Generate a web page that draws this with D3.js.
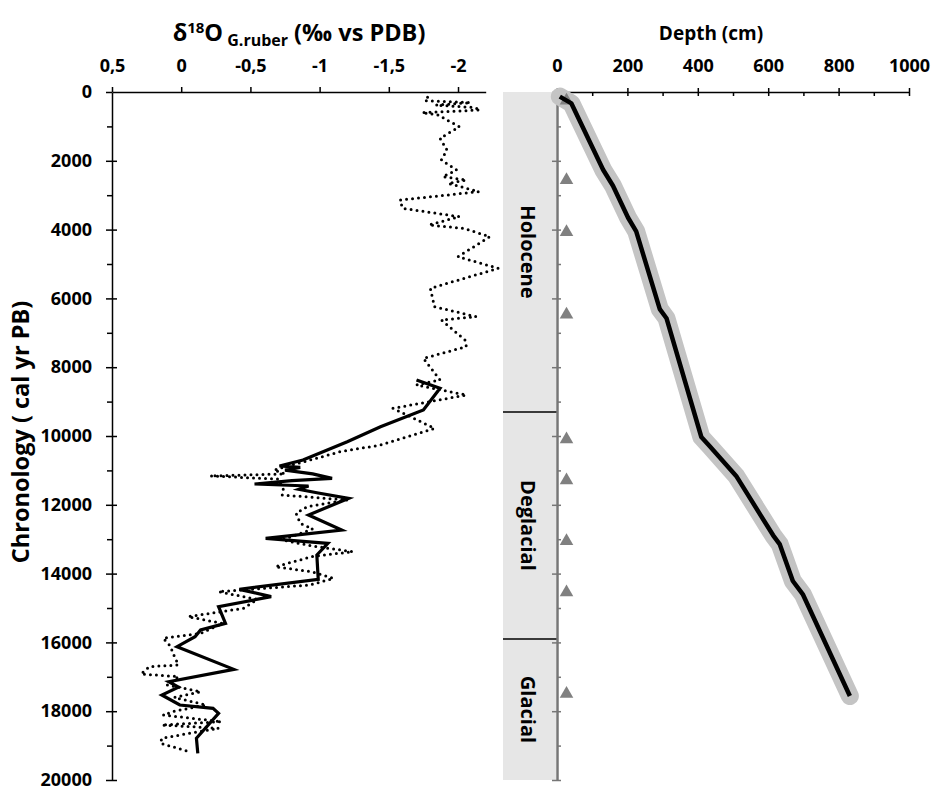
<!DOCTYPE html>
<html>
<head>
<meta charset="utf-8">
<script src="https://d3js.org/d3.v7.min.js"></script>
<style>
  body { margin: 0; background: #fff; }
  text { font-family: "Open Sans", sans-serif; font-weight: bold; fill: #000; }
</style>
</head>
<body>
<div id="chart"></div>
<script>
// d18O G.ruber, dotted record [age cal yr BP, permil]
var dottedData = [[150,-1.78],[252,-1.76],[310,-2.09],[380,-1.84],[450,-2.12],[523,-2.16],[600,-1.74],[669,-1.86],[814,-1.92],[1008,-2.01],[1347,-1.87],[1686,-1.92],[1977,-1.88],[2267,-1.99],[2461,-1.89],[2558,-2.06],[2655,-1.93],[2897,-2.15],[3140,-1.58],[3382,-1.60],[3624,-2.01],[3866,-1.79],[3963,-2.04],[4205,-2.23],[4787,-2.00],[5126,-2.29],[5707,-1.80],[6240,-1.83],[6531,-2.13],[6628,-1.88],[7209,-2.05],[7403,-2.06],[7742,-1.75],[8372,-1.87],[8517,-1.70],[8808,-2.06],[9195,-1.53],[9777,-1.83],[10262,-1.44],[10456,-1.15],[10988,-0.67],[11100,-0.75],[11163,-0.21],[11250,-0.70],[11570,-0.74],[11715,-0.73],[11860,-1.20],[12054,-0.91],[12248,-0.83],[12539,-0.86],[12700,-0.95],[13023,-0.73],[13200,-0.95],[13362,-1.24],[13500,-0.95],[13799,-0.68],[13950,-0.95],[14137,-1.10],[14331,-0.93],[14525,-0.27],[14750,-0.55],[15010,-0.45],[15252,-0.05],[15450,-0.30],[15736,-0.14],[15881,0.13],[16100,0.08],[16400,0.05],[16657,0.02],[16705,0.23],[16919,0.29],[16996,0.02],[17238,0.10],[17432,-0.14],[17600,0.05],[17819,-0.18],[18000,0.05],[18110,0.13],[18304,-0.29],[18401,0.14],[18497,-0.27],[18650,-0.05],[18788,0.14],[18933,0.15],[19177,-0.06]];

// d18O, solid record
var solidData = [[8372,-1.70],[8614,-1.87],[9244,-1.75],[9729,-1.44],[10165,-1.20],[10698,-0.88],[10872,-0.71],[10911,-0.86],[10990,-0.75],[11100,-0.95],[11231,-1.09],[11300,-0.80],[11395,-0.53],[11453,-0.92],[11550,-0.85],[11650,-0.98],[11812,-1.21],[12297,-0.92],[12733,-1.16],[12975,-0.61],[13120,-1.06],[13459,-0.98],[14167,-0.99],[14457,-0.42],[14671,-0.65],[14962,-0.27],[15446,-0.32],[15640,-0.14],[15834,-0.10],[16124,0.03],[16783,-0.38],[17142,0.09],[17300,0.02],[17529,0.14],[17820,0.01],[17916,-0.23],[18061,-0.27],[18788,-0.11],[19225,-0.12]];

// age-depth model [age, depth cm]
var ageDepth = [[134,8],[332,41],[2259,131],[2725,159],[3655,202],[4052,225],[6311,292],[6576,311],[10029,410],[10297,434],[11160,509],[12887,614],[13152,633],[14215,670],[14613,699],[17560,832]];

// dated levels (triangles)
var dateAges = [250, 2560, 4070, 6470, 10096, 11291, 13058, 14547, 17497];
var dateDepth = 27;

// periods
var periods = [
  { name: "Holocene", start: 0, end: 9300 },
  { name: "Deglacial", start: 9300, end: 15900 },
  { name: "Glacial", start: 15900, end: 20000 }
];

var d18Ticks = [0.5, 0, -0.5, -1, -1.5, -2];
var depthTicks = [0, 200, 400, 600, 800, 1000];

var svg = d3.select("#chart")
  .append("svg")
  .attr("width", 934)
  .attr("height", 792);

// scales
var y = d3.scaleLinear().domain([0, 20000]).range([92, 780]);
var x = d3.scaleLinear().domain([0.5, -2.2]).range([112, 485.7]);
var xd = d3.scaleLinear().domain([0, 1000]).range([557, 909]);

var fmt = function (d) { return String(d).replace(".", ","); };
var tickFont = "18px";

// period band
svg.selectAll("rect.period")
  .data(periods)
  .enter()
  .append("rect")
  .attr("class", "period")
  .attr("x", 503)
  .attr("width", 53)
  .attr("y", function (d) { return y(d.start); })
  .attr("height", function (d) { return y(d.end) - y(d.start); })
  .attr("fill", "#e6e6e6");

svg.selectAll("line.divider")
  .data(periods.slice(1))
  .enter()
  .append("line")
  .attr("class", "divider")
  .attr("x1", 503).attr("x2", 558)
  .attr("y1", function (d) { return y(d.start); })
  .attr("y2", function (d) { return y(d.start); })
  .attr("stroke", "#000")
  .attr("stroke-width", 1.5);

svg.selectAll("text.period")
  .data(periods)
  .enter()
  .append("text")
  .attr("class", "period")
  .attr("transform", function (d) {
    return "translate(528," + y((d.start + d.end) / 2) + ") rotate(90)";
  })
  .attr("text-anchor", "middle")
  .attr("dy", "0.35em")
  .style("font-size", "20px")
  .text(function (d) { return d.name; });

// left top axis
var gx = svg.append("g")
  .attr("transform", "translate(0,92)")
  .call(d3.axisTop(x).tickValues(d18Ticks).tickFormat(fmt).tickSizeInner(5).tickSizeOuter(0).tickPadding(15));
gx.select(".domain").attr("stroke-width", 1.5);
gx.selectAll("line").attr("stroke-width", 1.5);
gx.selectAll("text").style("font-size", tickFont);

// left y axis: minor, major, crossing
var gyMinor = svg.append("g")
  .attr("transform", "translate(112,0)")
  .call(d3.axisLeft(y).tickValues(d3.range(1000, 20000, 2000)).tickSizeInner(5).tickSizeOuter(0).tickFormat(""));
var gy = svg.append("g")
  .attr("transform", "translate(112,0)")
  .call(d3.axisLeft(y).tickValues(d3.range(0, 20001, 2000)).tickSizeInner(6).tickSizeOuter(0).tickPadding(14).tickFormat(d3.format("d")));
var gyIn = svg.append("g")
  .attr("transform", "translate(112,0)")
  .call(d3.axisRight(y).tickValues(d3.range(2000, 20001, 2000)).tickSizeInner(5).tickSizeOuter(0).tickFormat(""));
[gyMinor, gy, gyIn].forEach(function (g) {
  g.select(".domain").attr("stroke-width", 1.5);
  g.selectAll("line").attr("stroke-width", 1.5);
});
gyMinor.select(".domain").remove();
gyIn.select(".domain").remove();
gy.selectAll("text").style("font-size", tickFont);

// right top axis (depth)
var gd = svg.append("g")
  .attr("transform", "translate(0,92)")
  .call(d3.axisTop(xd).tickValues(depthTicks).tickSizeInner(4).tickSizeOuter(0).tickPadding(16).tickFormat(d3.format("d")));
var gdMinor = svg.append("g")
  .attr("transform", "translate(0,92)")
  .call(d3.axisBottom(xd).tickValues(d3.range(0, 1001, 100)).tickSizeInner(4).tickSizeOuter(0).tickFormat(""));
gdMinor.select(".domain").remove();
[gd, gdMinor].forEach(function (g) {
  g.select(".domain").attr("stroke-width", 1.5);
  g.selectAll("line").attr("stroke-width", 1.5);
});
gd.selectAll("text").style("font-size", tickFont);

// right y axis (grey)
var gr = svg.append("g")
  .attr("transform", "translate(557,0)")
  .call(d3.axisLeft(y).tickValues(d3.range(0, 20001, 2000)).tickSizeInner(5).tickSizeOuter(0).tickFormat(""));
var grIn = svg.append("g")
  .attr("transform", "translate(557,0)")
  .call(d3.axisRight(y).tickValues(d3.range(0, 20001, 1000)).tickSizeInner(4).tickSizeOuter(0).tickFormat(""));
grIn.select(".domain").remove();
[gr, grIn].forEach(function (g) {
  g.select(".domain").attr("stroke", "#767676").attr("stroke-width", 2.5);
  g.selectAll("line").attr("stroke", "#767676").attr("stroke-width", 1.5);
});

// d18O lines
var line18 = d3.line()
  .x(function (d) { return x(d[1]); })
  .y(function (d) { return y(d[0]); });

svg.append("path")
  .datum(dottedData)
  .attr("d", line18)
  .attr("fill", "none")
  .attr("stroke", "#000")
  .attr("stroke-width", 3)
  .attr("stroke-linecap", "round")
  .attr("stroke-dasharray", "0,6");

svg.append("path")
  .datum(solidData)
  .attr("d", line18)
  .attr("fill", "none")
  .attr("stroke", "#000")
  .attr("stroke-width", 3.2);

// age-depth: envelope + line
var lineAD = d3.line()
  .x(function (d) { return xd(d[1]); })
  .y(function (d) { return y(d[0]); });

svg.append("path")
  .datum(ageDepth)
  .attr("d", lineAD)
  .attr("fill", "none")
  .attr("stroke", "#c4c4c4")
  .attr("stroke-width", 18)
  .attr("stroke-linecap", "round")
  .attr("stroke-linejoin", "round");

// triangles
svg.selectAll("path.date")
  .data(dateAges)
  .enter()
  .append("path")
  .attr("class", "date")
  .attr("d", d3.symbol().type(d3.symbolTriangle).size(80))
  .attr("transform", function (d) { return "translate(" + xd(dateDepth) + "," + y(d) + ")"; })
  .attr("fill", "#808080");

svg.append("path")
  .datum(ageDepth)
  .attr("d", lineAD)
  .attr("fill", "none")
  .attr("stroke", "#000")
  .attr("stroke-width", 4.5)
  .attr("stroke-linejoin", "round");

// titles
var t = svg.append("text")
  .attr("x", 299)
  .attr("y", 41)
  .attr("text-anchor", "middle")
  .style("font-size", "23.5px");
t.append("tspan").text("\u03b4");
t.append("tspan").attr("dy", -8).style("font-size", "15px").text("18");
t.append("tspan").attr("dy", 8).text("O");
t.append("tspan").attr("dy", 5).style("font-size", "16px").text(" G.ruber");
t.append("tspan").attr("dy", -5).text(" (\u2030 vs PDB)");

svg.append("text")
  .attr("x", 711)
  .attr("y", 40)
  .attr("text-anchor", "middle")
  .style("font-size", "19px")
  .text("Depth (cm)");

svg.append("text")
  .attr("transform", "translate(29,432) rotate(-90)")
  .attr("text-anchor", "middle")
  .style("font-size", "23.5px")
  .text("Chronology ( cal yr PB)");
</script>
</body>
</html>
